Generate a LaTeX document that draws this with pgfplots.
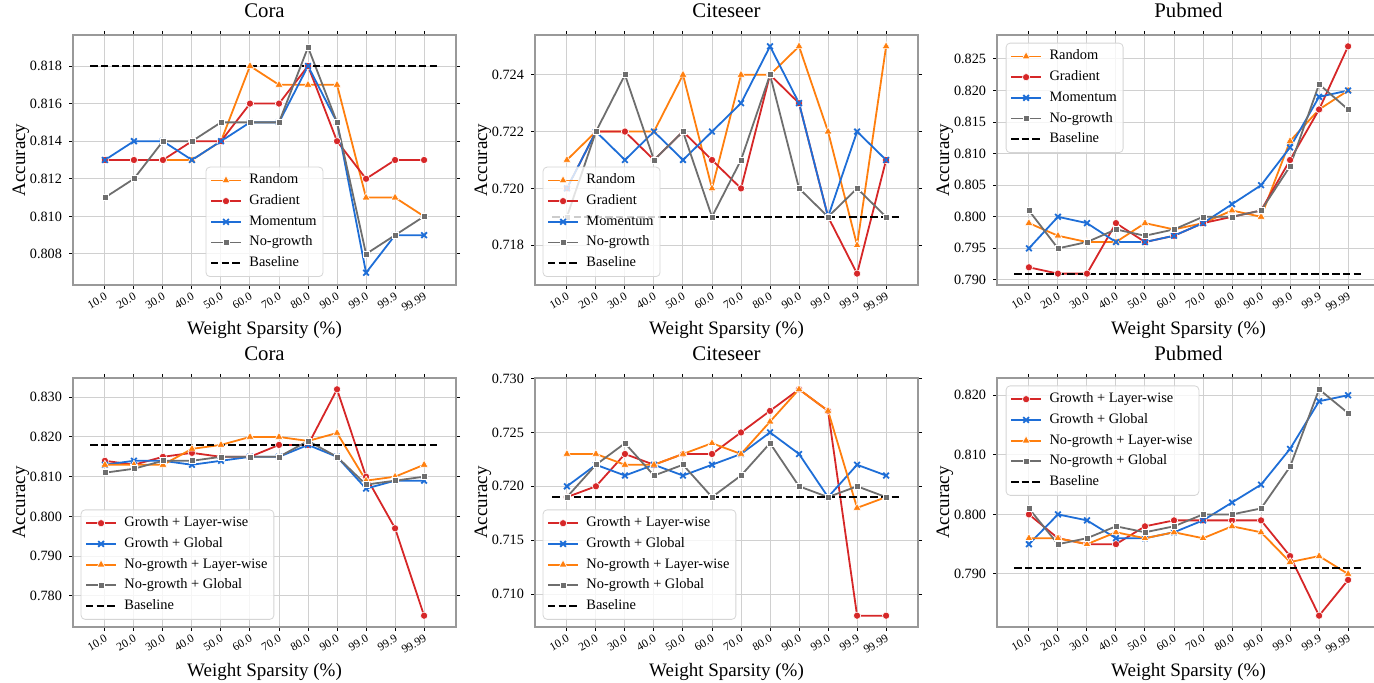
\documentclass[border=0pt]{standalone}
\usepackage{fontspec}
\setmainfont{Liberation Serif}
\usepackage{pgfplots}
\pgfplotsset{compat=1.18}
\definecolor{cor}{HTML}{FF7F0E}
\definecolor{cred}{HTML}{D62728}
\definecolor{cblue}{HTML}{1E6ED7}
\definecolor{cgray}{HTML}{6E6E6E}
\definecolor{gridc}{HTML}{D0D0D0}
\definecolor{framec}{HTML}{999999}
\definecolor{legc}{HTML}{D5D5D5}
\pgfplotsset{
  myaxis/.style={
    scale only axis, width=191.5pt, height=125pt,
    xmin=-1.1, xmax=12.1,
    xtick={0,...,11},
    xticklabels={10.0,20.0,30.0,40.0,50.0,60.0,70.0,80.0,90.0,99.0,99.9,99.99},
    grid=major, major grid style={color=gridc, line width=0.5pt},
    axis line style={color=framec, line width=0.6pt},
    tick align=outside, major tick length=2pt,
    tick style={color=black, line width=0.5pt},
    xticklabel style={font=\rmfamily\fontsize{5.8}{6}\selectfont, rotate=30, anchor=north east, inner sep=1pt},
    yticklabel style={font=\rmfamily\fontsize{7.1}{8}\selectfont, /pgf/number format/.cd, fixed, fixed zerofill, precision=3, /tikz/.cd},
    /pgf/number format/assume math mode=true,
    scaled y ticks=false,
    title style={font=\rmfamily\fontsize{10.4}{12}\selectfont, at={(0.5,1)}, anchor=base, yshift=2.9pt},
    xlabel={Weight Sparsity (\%)}, ylabel={Accuracy},
    xlabel style={font=\rmfamily\fontsize{9.5}{11}\selectfont, at={(axis description cs:0.5,0)}, anchor=base, yshift=-25pt},
    ylabel style={font=\rmfamily\fontsize{9.5}{11}\selectfont, at={(axis description cs:-0.1253,0.5)}, anchor=base},
    legend cell align=left,
    legend style={font=\rmfamily\fontsize{7.2}{8.6}\selectfont, draw=legc, rounded corners=2pt, fill=white, fill opacity=0.8, text opacity=1, draw opacity=1,
      inner xsep=2pt, inner ysep=2pt, row sep=1pt,
      nodes={inner sep=1.2pt, text height=5.2pt, text depth=1.75pt},
      /tikz/every odd column/.append style={column sep=2.5pt}},
    legend image code/.code={\draw[opacity=1, mark repeat=2, mark phase=2, #1] plot coordinates {(0pt,0pt) (7.5pt,0pt) (15pt,0pt)};},
  },
  sor/.style={color=cor, line width=0.9pt, mark=triangle*, mark size=2.3pt, mark options={solid, fill=cor, draw=white, line width=0.3pt}},
  sred/.style={color=cred, line width=0.9pt, mark=*, mark size=1.8pt, mark options={solid, fill=cred, draw=white, line width=0.3pt}},
  sblue/.style={color=cblue, line width=0.9pt, mark=x, mark size=2pt, mark options={solid, draw=cblue, line width=0.9pt}},
  sgray/.style={color=cgray, line width=0.9pt, mark=square*, mark size=1.5pt, mark options={solid, fill=cgray, draw=white, line width=0.3pt}},
  sbase/.style={color=black, line width=1pt, dash pattern=on 3.7pt off 1.6pt, no marks},
}
\begin{document}
\begin{tikzpicture}
\useasboundingbox (0,0) rectangle (687pt,341.5pt);
% ---------------- Top left: Cora
\begin{axis}[myaxis, at={(36.5pt,199pt)}, anchor=south west, title={Cora},
  ymin=0.80635, ymax=0.81965, ytick={0.808,0.810,0.812,0.814,0.816,0.818},
  legend style={at={(0.5,0.032)}, anchor=south}]
\addplot[sor] coordinates {(0,0.813) (1,0.813) (2,0.813) (3,0.813) (4,0.814) (5,0.818) (6,0.817) (7,0.817) (8,0.817) (9,0.811) (10,0.811) (11,0.810)};
\addplot[sred] coordinates {(0,0.813) (1,0.813) (2,0.813) (3,0.814) (4,0.814) (5,0.816) (6,0.816) (7,0.818) (8,0.814) (9,0.812) (10,0.813) (11,0.813)};
\addplot[sblue] coordinates {(0,0.813) (1,0.814) (2,0.814) (3,0.813) (4,0.814) (5,0.815) (6,0.815) (7,0.818) (8,0.815) (9,0.807) (10,0.809) (11,0.809)};
\addplot[sgray] coordinates {(0,0.811) (1,0.812) (2,0.814) (3,0.814) (4,0.815) (5,0.815) (6,0.815) (7,0.819) (8,0.815) (9,0.808) (10,0.809) (11,0.810)};
\addplot[sbase] coordinates {(-0.5,0.818) (11.5,0.818)};
\legend{Random,Gradient,Momentum,No-growth,Baseline}
\end{axis}
% ---------------- Top middle: Citeseer
\begin{axis}[myaxis, at={(267.5pt,199pt)}, anchor=south west, title={Citeseer},
  ymin=0.7166, ymax=0.7254, ytick={0.718,0.720,0.722,0.724},
  legend style={at={(0.02,0.032)}, anchor=south west}]
\addplot[sor] coordinates {(0,0.721) (1,0.722) (2,0.722) (3,0.722) (4,0.724) (5,0.720) (6,0.724) (7,0.724) (8,0.725) (9,0.722) (10,0.718) (11,0.725)};
\addplot[sred] coordinates {(0,0.720) (1,0.722) (2,0.722) (3,0.721) (4,0.722) (5,0.721) (6,0.720) (7,0.724) (8,0.723) (9,0.719) (10,0.717) (11,0.721)};
\addplot[sblue] coordinates {(0,0.720) (1,0.722) (2,0.721) (3,0.722) (4,0.721) (5,0.722) (6,0.723) (7,0.725) (8,0.723) (9,0.719) (10,0.722) (11,0.721)};
\addplot[sgray] coordinates {(0,0.719) (1,0.722) (2,0.724) (3,0.721) (4,0.722) (5,0.719) (6,0.721) (7,0.724) (8,0.720) (9,0.719) (10,0.720) (11,0.719)};
\addplot[sbase] coordinates {(-0.5,0.719) (11.5,0.719)};
\legend{Random,Gradient,Momentum,No-growth,Baseline}
\end{axis}
% ---------------- Top right: Pubmed
\begin{axis}[myaxis, at={(498.5pt,199pt)}, anchor=south west, title={Pubmed},
  ymin=0.7892, ymax=0.8288, ytick={0.790,0.795,0.800,0.805,0.810,0.815,0.820,0.825},
  legend style={at={(0.0227,0.969)}, anchor=north west}]
\addplot[sor] coordinates {(0,0.799) (1,0.797) (2,0.796) (3,0.796) (4,0.799) (5,0.798) (6,0.799) (7,0.801) (8,0.800) (9,0.812) (10,0.817) (11,0.820)};
\addplot[sred] coordinates {(0,0.792) (1,0.791) (2,0.791) (3,0.799) (4,0.796) (5,0.797) (6,0.799) (7,0.800) (8,0.801) (9,0.809) (10,0.817) (11,0.827)};
\addplot[sblue] coordinates {(0,0.795) (1,0.800) (2,0.799) (3,0.796) (4,0.796) (5,0.797) (6,0.799) (7,0.802) (8,0.805) (9,0.811) (10,0.819) (11,0.820)};
\addplot[sgray] coordinates {(0,0.801) (1,0.795) (2,0.796) (3,0.798) (4,0.797) (5,0.798) (6,0.800) (7,0.800) (8,0.801) (9,0.808) (10,0.821) (11,0.817)};
\addplot[sbase] coordinates {(-0.5,0.791) (11.5,0.791)};
\legend{Random,Gradient,Momentum,No-growth,Baseline}
\end{axis}
% ---------------- Bottom left: Cora
\begin{axis}[myaxis, height=124.5pt, at={(36.5pt,28pt)}, anchor=south west, title={Cora},
  ymin=0.77215, ymax=0.83485, ytick={0.780,0.790,0.800,0.810,0.820,0.830},
  legend style={at={(0.02,0.029)}, anchor=south west}]
\addplot[sred] coordinates {(0,0.814) (1,0.813) (2,0.815) (3,0.816) (4,0.815) (5,0.815) (6,0.818) (7,0.818) (8,0.832) (9,0.810) (10,0.797) (11,0.775)};
\addplot[sblue] coordinates {(0,0.813) (1,0.814) (2,0.814) (3,0.813) (4,0.814) (5,0.815) (6,0.815) (7,0.818) (8,0.815) (9,0.807) (10,0.809) (11,0.809)};
\addplot[sor] coordinates {(0,0.813) (1,0.813) (2,0.813) (3,0.817) (4,0.818) (5,0.820) (6,0.820) (7,0.819) (8,0.821) (9,0.809) (10,0.810) (11,0.813)};
\addplot[sgray] coordinates {(0,0.811) (1,0.812) (2,0.814) (3,0.814) (4,0.815) (5,0.815) (6,0.815) (7,0.819) (8,0.815) (9,0.808) (10,0.809) (11,0.810)};
\addplot[sbase] coordinates {(-0.5,0.818) (11.5,0.818)};
\legend{Growth + Layer-wise,Growth + Global,No-growth + Layer-wise,No-growth + Global,Baseline}
\end{axis}
% ---------------- Bottom middle: Citeseer
\begin{axis}[myaxis, height=124.5pt, at={(267.5pt,28pt)}, anchor=south west, title={Citeseer},
  ymin=0.70695, ymax=0.73005, ytick={0.710,0.715,0.720,0.725,0.730},
  legend style={at={(0.02,0.029)}, anchor=south west}]
\addplot[sred] coordinates {(0,0.719) (1,0.720) (2,0.723) (3,0.722) (4,0.723) (5,0.723) (6,0.725) (7,0.727) (8,0.729) (9,0.727) (10,0.708) (11,0.708)};
\addplot[sblue] coordinates {(0,0.720) (1,0.722) (2,0.721) (3,0.722) (4,0.721) (5,0.722) (6,0.723) (7,0.725) (8,0.723) (9,0.719) (10,0.722) (11,0.721)};
\addplot[sor] coordinates {(0,0.723) (1,0.723) (2,0.722) (3,0.722) (4,0.723) (5,0.724) (6,0.723) (7,0.726) (8,0.729) (9,0.727) (10,0.718) (11,0.719)};
\addplot[sgray] coordinates {(0,0.719) (1,0.722) (2,0.724) (3,0.721) (4,0.722) (5,0.719) (6,0.721) (7,0.724) (8,0.720) (9,0.719) (10,0.720) (11,0.719)};
\addplot[sbase] coordinates {(-0.5,0.719) (11.5,0.719)};
\legend{Growth + Layer-wise,Growth + Global,No-growth + Layer-wise,No-growth + Global,Baseline}
\end{axis}
% ---------------- Bottom right: Pubmed
\begin{axis}[myaxis, height=124.5pt, at={(498.5pt,28pt)}, anchor=south west, title={Pubmed},
  ymin=0.7811, ymax=0.8229, ytick={0.790,0.800,0.810,0.820},
  legend style={at={(0.0227,0.97)}, anchor=north west}]
\addplot[sred] coordinates {(0,0.800) (1,0.796) (2,0.795) (3,0.795) (4,0.798) (5,0.799) (6,0.799) (7,0.799) (8,0.799) (9,0.793) (10,0.783) (11,0.789)};
\addplot[sblue] coordinates {(0,0.795) (1,0.800) (2,0.799) (3,0.796) (4,0.796) (5,0.797) (6,0.799) (7,0.802) (8,0.805) (9,0.811) (10,0.819) (11,0.820)};
\addplot[sor] coordinates {(0,0.796) (1,0.796) (2,0.795) (3,0.797) (4,0.796) (5,0.797) (6,0.796) (7,0.798) (8,0.797) (9,0.792) (10,0.793) (11,0.790)};
\addplot[sgray] coordinates {(0,0.801) (1,0.795) (2,0.796) (3,0.798) (4,0.797) (5,0.798) (6,0.800) (7,0.800) (8,0.801) (9,0.808) (10,0.821) (11,0.817)};
\addplot[sbase] coordinates {(-0.5,0.791) (11.5,0.791)};
\legend{Growth + Layer-wise,Growth + Global,No-growth + Layer-wise,No-growth + Global,Baseline}
\end{axis}
\end{tikzpicture}
\end{document}
